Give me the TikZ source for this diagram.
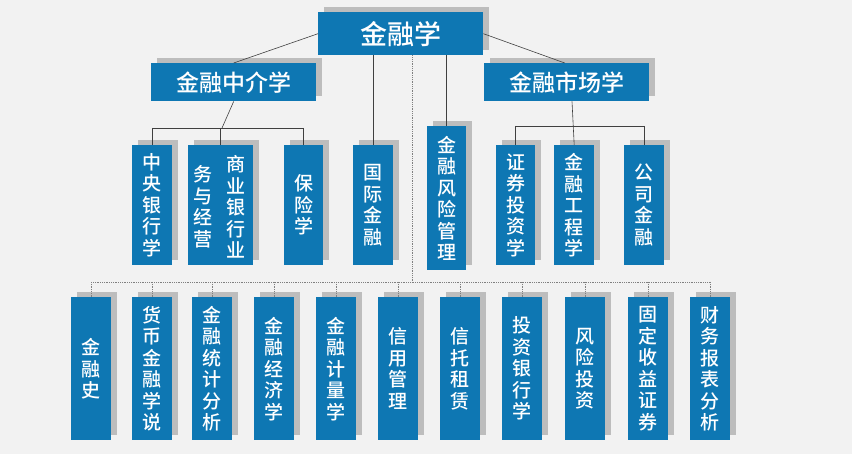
\documentclass[tikz,border=0pt]{standalone}
\usepackage{fontspec}
\newfontfamily\cjk{Noto Sans CJK SC Medium}
\definecolor{bx}{HTML}{0E77B3}
\definecolor{bg}{HTML}{F2F2F2}
\definecolor{sh}{HTML}{BDBDBD}
\begin{document}
\begin{tikzpicture}[x=1pt,y=-1pt,
 box/.style={fill=bx,text=white,inner sep=0pt,font=\cjk\fontsize{19}{21.5}\selectfont,align=center},
 txt/.style={text=white,inner sep=0pt,font=\cjk\fontsize{19}{21.5}\selectfont,align=center},
 ln/.style={draw=black!75,line width=0.6pt},
 dl/.style={draw=black!50,densely dotted,line width=0.8pt}]
\fill[bg] (0,0) rectangle (852,454);
\newcommand\vb[6]{% name x1 y1 x2 y2 text
 \fill[sh] (#2+6,#3-5) rectangle (#4+6,#5-5);
 \node[box,minimum width=#4-#2,minimum height=#5-#3,anchor=north west] (#1) at (#2,#3) {};
 \node[txt] at (#1.center) {#6};}
% top
\fill[sh] (324,7) rectangle (489,50);
\node[box,minimum width=165,minimum height=43,anchor=north west,font=\cjk\fontsize{27}{30}\selectfont] (top) at (318,12) {金融学};
\fill[sh] (157,58) rectangle (322,96);
\node[box,minimum width=165,minimum height=38,anchor=north west,font=\cjk\fontsize{23}{26}\selectfont] (mid) at (151,63) {金融中介学};
\fill[sh] (490,58) rectangle (655,96);
\node[box,minimum width=165,minimum height=38,anchor=north west,font=\cjk\fontsize{23}{26}\selectfont] (mkt) at (484,63) {金融市场学};
% level 3
\vb{a1}{132}{145}{172}{265}{中\\央\\银\\行\\学}
\vb{a2}{188}{145}{253}{265}{}
\node[txt,anchor=center] at (203,207) {务\\与\\经\\营};
\node[txt,anchor=center] at (236,207) {商\\业\\银\\行\\业};
\vb{a3}{284}{145}{323}{265}{保\\险\\学}
\vb{a4}{353}{145}{393}{265}{国\\际\\金\\融}
\vb{a5}{427}{126}{466}{270}{金\\融\\风\\险\\管\\理}
\vb{a6}{496}{145}{535}{265}{证\\券\\投\\资\\学}
\vb{a7}{554}{145}{594}{265}{金\\融\\工\\程\\学}
\vb{a8}{624}{145}{664}{265}{公\\司\\金\\融}
% bottom
\vb{b1}{71}{297}{111}{440}{金\\融\\史}
\vb{b2}{132}{297}{172}{440}{货\\币\\金\\融\\学\\说}
\vb{b3}{192}{297}{232}{440}{金\\融\\统\\计\\分\\析}
\vb{b4}{254}{297}{294}{440}{金\\融\\经\\济\\学}
\vb{b5}{316}{297}{356}{440}{金\\融\\计\\量\\学}
\vb{b6}{378}{297}{418}{440}{信\\用\\管\\理}
\vb{b7}{440}{297}{480}{440}{信\\托\\租\\赁}
\vb{b8}{502}{297}{542}{440}{投\\资\\银\\行\\学}
\vb{b9}{565}{297}{605}{440}{风\\险\\投\\资}
\vb{b10}{628}{297}{668}{440}{固\\定\\收\\益\\证\\券}
\vb{b11}{690}{297}{730}{440}{财\\务\\报\\表\\分\\析}
% connectors
\draw[ln] (top.west) -- (mid.north);
\draw[ln] (top.east) -- ([xshift=-2]mkt.north);
\coordinate (h1) at (222,128);
\draw[ln] (mid.south) -- (h1);
\draw[ln] (a1.north |- h1) -- (a1.north);
\draw[ln] (a3.north |- h1) -- (a3.north);
\draw[ln] (a1.north |- h1) -- (a3.north |- h1);
\draw[ln] (a2.north |- h1) -- (a2.north);
\draw[ln] (top.south -| a4.north) -- (a4.north);
\draw[ln] (top.south -| a5.north) -- (a5.north);
\coordinate (h2) at (572,126);
\draw[ln] (mkt.south -| h2) -- (a7.north);
\draw[ln] (a6.north |- h2) -- (a8.north |- h2);
\draw[ln] (a6.north |- h2) -- (a6.north);
\draw[ln] (a8.north |- h2) -- (a8.north);
\coordinate (dv) at (412,282);
\draw[dl] (top.south -| dv) -- (dv);
\draw[dl] (b1.north |- dv) -- (b11.north |- dv);
\foreach \i in {1,...,11} \draw[dl] (b\i.north |- dv) -- (b\i.north);
\end{tikzpicture}
\end{document}
